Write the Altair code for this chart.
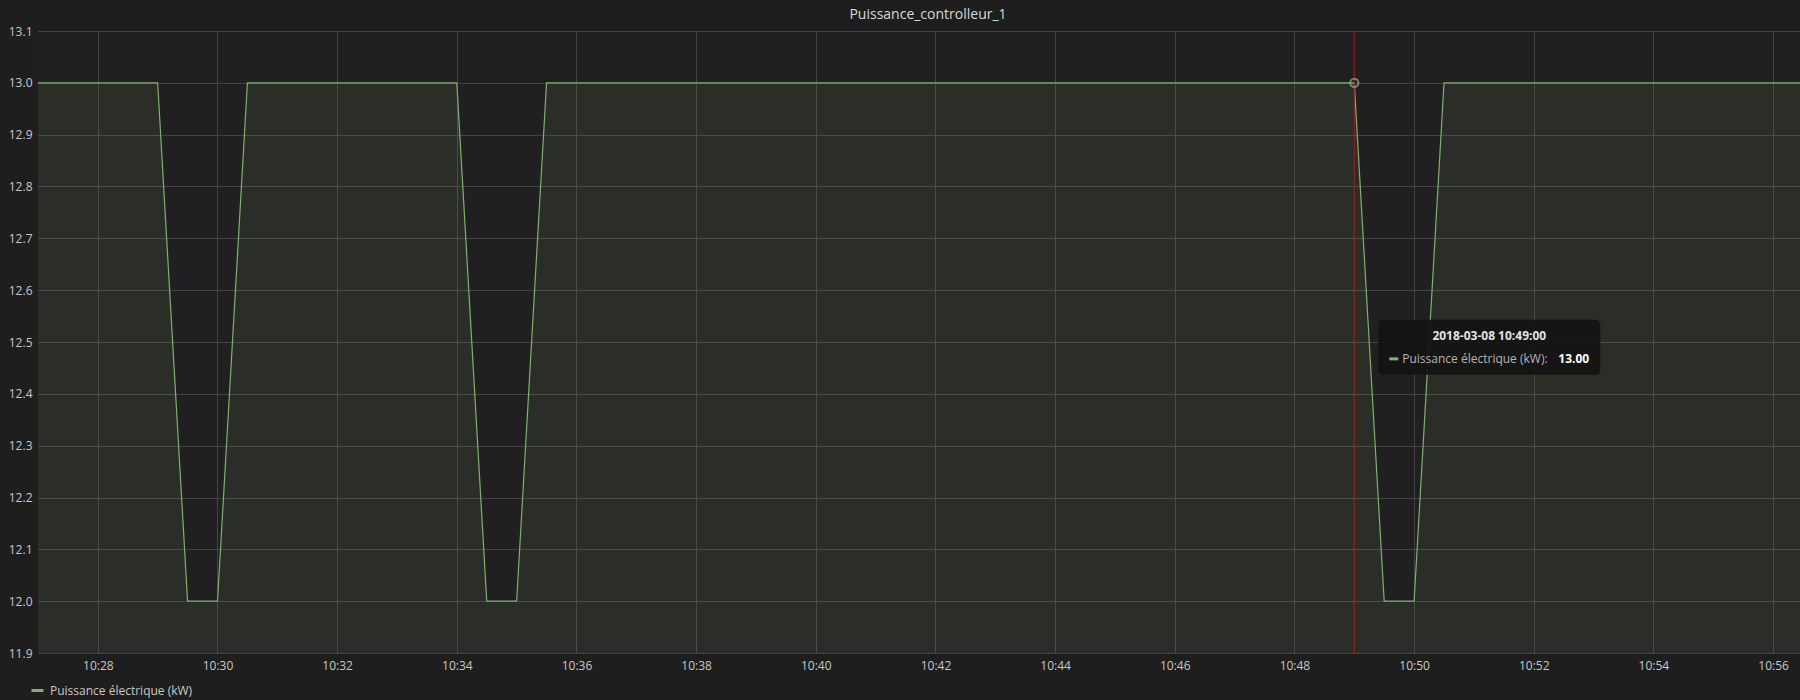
import altair as alt
import pandas as pd

# ---- data ----
day = "2018-03-08"
times = ["10:26:30", "10:29:00", "10:29:30", "10:30:00", "10:30:30",
         "10:34:00", "10:34:30", "10:35:00", "10:35:30",
         "10:49:00", "10:49:30", "10:50:00", "10:50:30", "10:56:30"]
values = [13.0, 13.0, 12.0, 12.0, 13.0,
          13.0, 12.0, 12.0, 13.0,
          13.0, 12.0, 12.0, 13.0, 13.0]
series_name = "Puissance électrique (kW)"
x_range = ["10:27:00", "10:56:27"]
x_tick_labels = ["10:28", "10:30", "10:32", "10:34", "10:36", "10:38", "10:40",
                 "10:42", "10:44", "10:46", "10:48", "10:50", "10:52", "10:54", "10:56"]
y_ticks = [11.9, 12.0, 12.1, 12.2, 12.3, 12.4, 12.5, 12.6, 12.7, 12.8, 12.9, 13.0, 13.1]
hover_time = "10:49:00"
hover_value = 13.0
hover_label = "2018-03-08 10:49:00"
hover_value_label = "13.00"
title_text = "Puissance_controlleur_1"


def ms(t):
    return int(pd.Timestamp(f"{day} {t}", tz="UTC").value // 10**6)


df = pd.DataFrame({"t": [ms(t) for t in times], "v": values, "series": series_name})
hover = pd.DataFrame({"t": [ms(hover_time)], "v": [hover_value],
                      "title": [hover_label], "label": [series_name + ":"],
                      "value": [hover_value_label]})

GREEN = "#7eb26d"
FONT = "Open Sans"
GRID = "#434343"
LABEL = "#c8c8c8"

xscale = alt.Scale(type="utc", domain=[ms(x_range[0]), ms(x_range[1])])
yscale = alt.Scale(domain=[y_ticks[0], y_ticks[-1]], nice=False, zero=False)

xenc = alt.X("t:T", scale=xscale, title=None,
             axis=alt.Axis(values=[ms(v + ":00") for v in x_tick_labels],
                           format="%H:%M", formatType="utc", grid=True,
                           gridColor=GRID, domain=False, ticks=False,
                           labelPadding=7, labelFontSize=12, labelFont=FONT,
                           labelColor=LABEL, labelFlush=False))
yenc = alt.Y("v:Q", scale=yscale, title=None,
             axis=alt.Axis(values=y_ticks, format=".1f", grid=True,
                           gridColor=GRID, domain=False, ticks=False,
                           labelPadding=6, labelFontSize=12, labelFont=FONT,
                           labelColor=LABEL))

base = alt.Chart(df)

area = base.mark_area(color=GREEN, opacity=0.1, clip=True).encode(
    x=xenc, y=yenc, y2=alt.datum(y_ticks[0]))

line = base.mark_line(strokeWidth=1.2, clip=True).encode(
    x="t:T", y="v:Q",
    color=alt.Color("series:N", scale=alt.Scale(range=[GREEN]),
                    legend=alt.Legend(title=None, orient="none", legendX=-8,
                                      legendY=652, symbolType="stroke",
                                      symbolSize=144, symbolStrokeWidth=3,
                                      labelFont=FONT, labelFontSize=12,
                                      labelColor=LABEL, labelOffset=5,
                                      padding=0)))

hb = alt.Chart(hover)

cursor = hb.mark_rule(color="#a81c1c", strokeWidth=1).encode(x="t:T")

dot = hb.mark_point(shape="circle", filled=False, size=70, strokeWidth=2,
                    color="#8fa884", opacity=0.75).encode(x="t:T", y="v:Q")

tip_box = hb.mark_rect(color="#141414", opacity=0.95, cornerRadius=4,
                       xOffset=24, x2Offset=246, yOffset=237, y2Offset=292).encode(
    x="t:T", x2="t", y="v:Q", y2="v")

tip_title = hb.mark_text(font=FONT, fontSize=12, fontWeight="bold", color="#e4e4e4",
                         align="center", baseline="middle", dx=135, dy=253).encode(
    x="t:T", y="v:Q", text="title:N")

tip_dash = hb.mark_rule(color=GREEN, strokeWidth=3, xOffset=35, x2Offset=44,
                        yOffset=276).encode(x="t:T", x2="t", y="v:Q")

tip_label = hb.mark_text(font=FONT, fontSize=12, color="#b4b4b4",
                         align="left", baseline="middle", dx=48, dy=276).encode(
    x="t:T", y="v:Q", text="label:N")

tip_value = hb.mark_text(font=FONT, fontSize=12, fontWeight="bold", color="#ffffff",
                         align="left", baseline="middle", dx=204, dy=276).encode(
    x="t:T", y="v:Q", text="value:N")

chart = alt.layer(area, line, cursor, dot, tip_box, tip_title, tip_dash,
                  tip_label, tip_value).properties(
    width=1762, height=622,
    title=alt.TitleParams(title_text, font=FONT, fontSize=14, fontWeight="normal",
                          color="#d8d9da", offset=3, dx=9),
    autosize=alt.AutoSizeParams(type="none"),
    padding={"left": 38, "top": 31, "right": 0, "bottom": 47},
    background="#1e1e1e",
).configure_view(fill="#211f21", stroke=None)

chart.save("out.html", embed_options={"renderer": "svg", "actions": False})
